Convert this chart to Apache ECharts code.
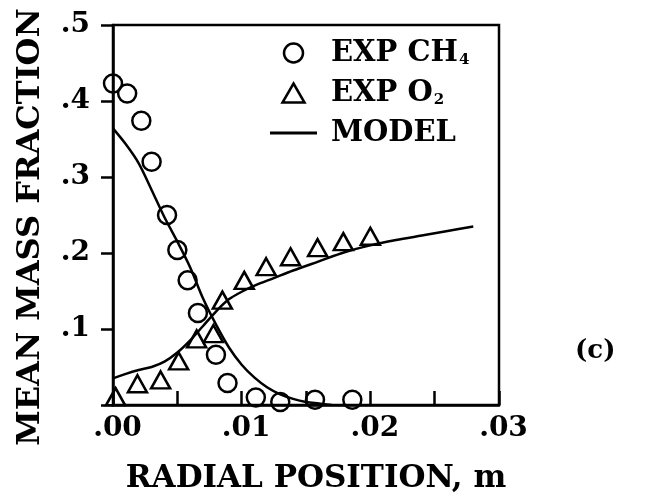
<!DOCTYPE html>
<html>
<head>
<meta charset="utf-8">
<script src="https://cdn.jsdelivr.net/npm/echarts@6/dist/echarts.min.js"></script>
<style>
  html, body { margin: 0; padding: 0; background: #fff; }
  #chart { width: 657px; height: 496px; }
</style>
</head>
<body>
<div id="chart"></div>
<script>
// Measured CH4 mass fraction vs radial position
const ch4X = [0.0000, 0.0011, 0.0022, 0.0030, 0.0042, 0.0050, 0.0058, 0.0066, 0.0080, 0.0089, 0.0111, 0.0130, 0.0157, 0.0186];
const ch4Y = [0.423, 0.410, 0.374, 0.320, 0.250, 0.204, 0.164, 0.121, 0.066, 0.029, 0.010, 0.004, 0.007, 0.007];

// Measured O2 mass fraction
const o2X = [0.0002, 0.0019, 0.0037, 0.0051, 0.0065, 0.0078, 0.0085, 0.0102, 0.0119, 0.0138, 0.0159, 0.0179, 0.0200];
const o2Y = [0.011, 0.028, 0.033, 0.058, 0.087, 0.094, 0.138, 0.164, 0.182, 0.195, 0.207, 0.215, 0.222];

// Model predictions
const modelCh4X = [0, 0.001, 0.002, 0.003, 0.004, 0.005, 0.006, 0.007, 0.008, 0.009, 0.010, 0.011, 0.012, 0.013, 0.014, 0.015, 0.016, 0.017];
const modelCh4Y = [0.364, 0.343, 0.318, 0.283, 0.247, 0.215, 0.181, 0.140, 0.106, 0.076, 0.053, 0.036, 0.023, 0.014, 0.008, 0.004, 0.002, 0.000];
const modelO2X = [0, 0.001, 0.002, 0.003, 0.004, 0.005, 0.006, 0.007, 0.008, 0.009, 0.010, 0.011, 0.0125, 0.014, 0.016, 0.018, 0.020, 0.022, 0.024, 0.026, 0.028];
const modelO2Y = [0.035, 0.041, 0.046, 0.050, 0.057, 0.069, 0.085, 0.104, 0.123, 0.139, 0.149, 0.157, 0.167, 0.177, 0.189, 0.201, 0.210, 0.217, 0.223, 0.229, 0.235];

// Axis tick labels
const xTickLabels = ['.00', '.01', '.02', '.03'];
const yTickLabels = ['', '.1', '.2', '.3', '.4', '.5'];

const FONT = 'DejaVu Serif';
const INK = '#000';

const zip = (xs, ys) => xs.map((x, i) => [x, ys[i]]);

const markerStyle = { color: 'rgba(0,0,0,0)', borderColor: INK, borderWidth: 2.5, opacity: 1 };

const chart = echarts.init(document.getElementById('chart'), null, { renderer: 'canvas' });

chart.setOption({
  backgroundColor: '#fff',
  animation: false,
  grid: {
    left: 113, right: 158, top: 25, bottom: 91,
    outerBoundsMode: 'none', containLabel: false,
    show: true, borderColor: INK, borderWidth: 2.5, backgroundColor: 'rgba(0,0,0,0)'
  },
  legend: {
    left: 270,
    top: 38,
    padding: 0,
    orient: 'vertical',
    itemWidth: 47,
    itemHeight: 19,
    itemGap: 10,
    selectedMode: false,
    textStyle: {
      fontFamily: FONT, fontSize: 29, fontWeight: 'bold', color: INK,
      lineHeight: 30, padding: [0, 0, 0, 9],
      rich: {
        s: { fontFamily: FONT, fontSize: 15, fontWeight: 'bold', color: INK, padding: [14, 0, 0, 1] }
      }
    },
    formatter: function (name) {
      if (name === 'EXP CH4') return 'EXP CH{s|4}';
      if (name === 'EXP O2') return 'EXP O{s|2}';
      return name;
    },
    data: [
      { name: 'EXP CH4', icon: 'circle', itemStyle: markerStyle },
      { name: 'EXP O2', icon: 'path://M11,0 L22,19 L0,19 Z', itemStyle: markerStyle },
      { name: 'MODEL', icon: 'path://M0,0 L47,0 L47,3 L0,3 Z', itemStyle: { color: INK, borderWidth: 0 } }
    ]
  },
  xAxis: {
    type: 'value',
    min: 0, max: 0.03, interval: 0.01,
    name: 'RADIAL POSITION, m',
    nameLocation: 'middle',
    nameGap: 58,
    nameTextStyle: { fontFamily: FONT, fontSize: 31, fontWeight: 'bold', color: INK, padding: [0, 0, 0, 20] },
    axisLine: { lineStyle: { color: INK, width: 2.5 } },
    axisTick: { inside: true, length: 14, lineStyle: { color: INK, width: 2.5 } },
    minorTick: { show: true, splitNumber: 2, length: 14, lineStyle: { color: INK, width: 2.5 } },
    axisLabel: {
      margin: 10, fontFamily: FONT, fontSize: 28, fontWeight: 'bold', color: INK,
      padding: [0, 0, 0, 9],
      formatter: v => xTickLabels[Math.round(v / 0.01)]
    },
    splitLine: { show: false }
  },
  yAxis: {
    type: 'value',
    min: 0, max: 0.5, interval: 0.1,
    name: 'MEAN MASS FRACTION',
    nameLocation: 'middle',
    nameGap: 66,
    nameTextStyle: { fontFamily: FONT, fontSize: 32, fontWeight: 'bold', color: INK, padding: [0, 24, 0, 0] },
    axisLine: { lineStyle: { color: INK, width: 2.5 } },
    axisTick: { inside: false, length: 12, lineStyle: { color: INK, width: 2.5 } },
    axisLabel: {
      margin: 23, fontFamily: FONT, fontSize: 28, fontWeight: 'bold', color: INK,
      formatter: v => yTickLabels[Math.round(v / 0.1)]
    },
    splitLine: { show: false }
  },
  graphic: [
    {
      type: 'text', left: 575, top: 338,
      style: { text: '(c)', fontFamily: FONT, fontSize: 26, fontWeight: 'bold', fill: INK }
    }
  ],
  series: [
    {
      name: 'MODEL', type: 'line', data: zip(modelCh4X, modelCh4Y),
      smooth: 0.3, showSymbol: false, symbol: 'none',
      lineStyle: { color: INK, width: 2.5 }, itemStyle: { color: INK }, z: 3
    },
    {
      name: 'MODEL', type: 'line', data: zip(modelO2X, modelO2Y),
      smooth: 0.3, showSymbol: false, symbol: 'none',
      lineStyle: { color: INK, width: 2.5 }, itemStyle: { color: INK }, z: 3
    },
    {
      name: 'EXP CH4', type: 'scatter', data: zip(ch4X, ch4Y),
      symbol: 'circle', symbolSize: 18, itemStyle: markerStyle, z: 4
    },
    {
      name: 'EXP O2', type: 'scatter', data: zip(o2X, o2Y),
      symbol: 'triangle', symbolSize: [19, 17], itemStyle: markerStyle, z: 4
    }
  ]
});
</script>
</body>
</html>
